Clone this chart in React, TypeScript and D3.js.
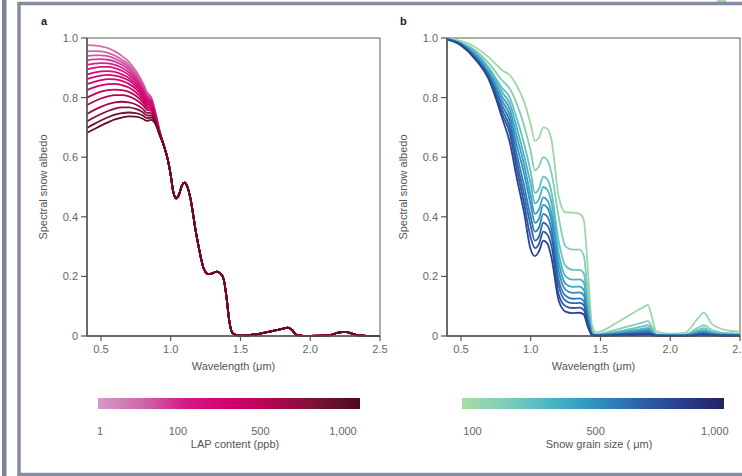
import React from "react";
import * as d3 from "d3";

// ---------- Panel a: LAP content ----------
const LAP_PPB = [1, 10, 25, 50, 75, 100, 150, 200, 250, 300, 400, 500, 600, 750, 900, 1000];
const WL_A_HEAD = [0.4, 0.45, 0.5, 0.55, 0.6, 0.65, 0.7, 0.75, 0.8, 0.83, 0.86, 0.89, 0.92];
const ALBEDO_A_HEAD = [
  [0.976, 0.975, 0.972, 0.966, 0.955, 0.94, 0.92, 0.89, 0.85, 0.818, 0.802, 0.752, 0.69],
  [0.955, 0.956, 0.955, 0.95, 0.941, 0.928, 0.91, 0.882, 0.845, 0.814, 0.8, 0.75, 0.689],
  [0.94, 0.942, 0.942, 0.939, 0.931, 0.919, 0.902, 0.876, 0.84, 0.81, 0.797, 0.748, 0.688],
  [0.925, 0.928, 0.929, 0.927, 0.921, 0.91, 0.894, 0.869, 0.834, 0.806, 0.794, 0.746, 0.687],
  [0.91, 0.914, 0.916, 0.915, 0.91, 0.9, 0.885, 0.862, 0.828, 0.801, 0.79, 0.744, 0.686],
  [0.895, 0.9, 0.903, 0.903, 0.899, 0.89, 0.876, 0.854, 0.822, 0.796, 0.786, 0.742, 0.685],
  [0.878, 0.884, 0.888, 0.889, 0.886, 0.878, 0.866, 0.846, 0.815, 0.791, 0.782, 0.74, 0.684],
  [0.862, 0.869, 0.874, 0.876, 0.874, 0.868, 0.857, 0.838, 0.809, 0.786, 0.778, 0.738, 0.683],
  [0.845, 0.853, 0.859, 0.862, 0.861, 0.856, 0.846, 0.829, 0.802, 0.78, 0.773, 0.736, 0.682],
  [0.825, 0.834, 0.841, 0.845, 0.846, 0.842, 0.834, 0.818, 0.794, 0.774, 0.768, 0.733, 0.681],
  [0.8, 0.811, 0.82, 0.825, 0.827, 0.825, 0.819, 0.806, 0.785, 0.767, 0.762, 0.73, 0.68],
  [0.775, 0.787, 0.797, 0.804, 0.808, 0.808, 0.804, 0.793, 0.775, 0.759, 0.756, 0.727, 0.679],
  [0.745, 0.758, 0.769, 0.778, 0.784, 0.786, 0.784, 0.777, 0.762, 0.749, 0.748, 0.723, 0.678],
  [0.72, 0.733, 0.745, 0.755, 0.763, 0.767, 0.767, 0.762, 0.751, 0.74, 0.74, 0.719, 0.677],
  [0.698, 0.711, 0.723, 0.734, 0.743, 0.748, 0.75, 0.748, 0.74, 0.731, 0.733, 0.715, 0.676],
  [0.682, 0.694, 0.706, 0.717, 0.727, 0.733, 0.737, 0.736, 0.729, 0.722, 0.725, 0.711, 0.675],
];
const WL_A_TAIL = [0.95, 0.98, 1.0, 1.02, 1.04, 1.06, 1.08, 1.1, 1.12, 1.14, 1.16, 1.18, 1.2, 1.22, 1.24, 1.27, 1.3, 1.33, 1.36, 1.38, 1.4, 1.42, 1.44, 1.47, 1.5, 1.55, 1.6, 1.65, 1.7, 1.75, 1.8, 1.84, 1.87, 1.9, 1.95, 2.0, 2.1, 2.15, 2.2, 2.25, 2.3, 2.35, 2.4, 2.5];
const ALBEDO_A_TAIL = [0.64, 0.59, 0.54, 0.48, 0.462, 0.475, 0.505, 0.515, 0.5, 0.465, 0.41, 0.35, 0.3, 0.255, 0.222, 0.208, 0.21, 0.216, 0.208, 0.19, 0.13, 0.05, 0.012, 0.003, 0.001, 0.002, 0.005, 0.009, 0.014, 0.019, 0.024, 0.028, 0.02, 0.004, 0.0005, 0.0005, 0.001, 0.004, 0.011, 0.014, 0.008, 0.002, 0.0005, 0];

const LAP_TICKS = [1, 100, 500, 1000];
const LAP_TICK_LABELS = ["1", "100", "500", "1,000"];
const LAP_TICK_POS = [0.008, 0.305, 0.62, 0.935];
const LAP_STOPS = ["#d49bc9", "#cd6aa9", "#d41a86", "#d4006f", "#b0064f", "#7a1236", "#4a0b1e"];

// ---------- Panel b: snow grain size ----------
const GRAIN_UM = [100, 200, 300, 400, 500, 600, 700, 800, 900, 1000];
const WL_B = [0.4, 0.5, 0.6, 0.7, 0.8, 0.85, 0.9, 0.95, 1.0, 1.03, 1.06, 1.09, 1.12, 1.15, 1.2, 1.25, 1.3, 1.35, 1.38, 1.41, 1.44, 1.47, 1.5, 1.6, 1.7, 1.8, 1.84, 1.87, 1.9, 2.0, 2.1, 2.2, 2.24, 2.3, 2.4, 2.5];
const ALBEDO_B = [
  [0.998, 0.99, 0.97, 0.935, 0.89, 0.875, 0.84, 0.79, 0.71, 0.655, 0.665, 0.7, 0.695, 0.655, 0.47, 0.415, 0.414, 0.41, 0.39, 0.22, 0.035, 0.012, 0.015, 0.04, 0.068, 0.095, 0.104, 0.06, 0.015, 0.008, 0.01, 0.06, 0.078, 0.04, 0.02, 0.015],
  [0.998, 0.985, 0.96, 0.915, 0.855, 0.83, 0.78, 0.71, 0.62, 0.555, 0.57, 0.6, 0.59, 0.545, 0.4, 0.3, 0.29, 0.29, 0.27, 0.14, 0.02, 0.006, 0.008, 0.02, 0.032, 0.045, 0.05, 0.03, 0.006, 0.003, 0.004, 0.028, 0.036, 0.02, 0.01, 0.008],
  [0.997, 0.983, 0.955, 0.9, 0.83, 0.8, 0.73, 0.65, 0.55, 0.48, 0.495, 0.535, 0.525, 0.48, 0.32, 0.235, 0.222, 0.222, 0.21, 0.1, 0.012, 0.004, 0.005, 0.013, 0.022, 0.032, 0.036, 0.02, 0.004, 0.002, 0.003, 0.02, 0.026, 0.014, 0.007, 0.005],
  [0.997, 0.982, 0.95, 0.895, 0.815, 0.78, 0.7, 0.61, 0.51, 0.445, 0.46, 0.5, 0.49, 0.445, 0.28, 0.2, 0.189, 0.19, 0.18, 0.085, 0.009, 0.003, 0.004, 0.01, 0.017, 0.024, 0.027, 0.015, 0.003, 0.002, 0.002, 0.015, 0.019, 0.01, 0.005, 0.004],
  [0.997, 0.981, 0.945, 0.885, 0.8, 0.76, 0.67, 0.58, 0.47, 0.41, 0.425, 0.465, 0.455, 0.41, 0.25, 0.175, 0.165, 0.166, 0.155, 0.07, 0.007, 0.002, 0.003, 0.008, 0.013, 0.019, 0.021, 0.012, 0.003, 0.001, 0.002, 0.012, 0.015, 0.008, 0.004, 0.003],
  [0.996, 0.98, 0.94, 0.88, 0.785, 0.74, 0.64, 0.55, 0.44, 0.38, 0.395, 0.44, 0.43, 0.385, 0.22, 0.155, 0.145, 0.146, 0.137, 0.06, 0.006, 0.002, 0.003, 0.006, 0.011, 0.015, 0.017, 0.01, 0.002, 0.001, 0.001, 0.009, 0.012, 0.006, 0.003, 0.002],
  [0.996, 0.979, 0.937, 0.875, 0.77, 0.72, 0.61, 0.51, 0.4, 0.35, 0.365, 0.41, 0.4, 0.355, 0.19, 0.135, 0.125, 0.126, 0.118, 0.05, 0.005, 0.002, 0.002, 0.005, 0.009, 0.012, 0.013, 0.008, 0.002, 0.001, 0.001, 0.007, 0.009, 0.005, 0.002, 0.002],
  [0.996, 0.978, 0.934, 0.87, 0.755, 0.7, 0.585, 0.48, 0.37, 0.32, 0.335, 0.38, 0.37, 0.33, 0.17, 0.118, 0.11, 0.111, 0.104, 0.045, 0.004, 0.001, 0.002, 0.004, 0.007, 0.009, 0.01, 0.006, 0.002, 0.001, 0.001, 0.005, 0.007, 0.004, 0.002, 0.001],
  [0.995, 0.977, 0.932, 0.865, 0.74, 0.68, 0.56, 0.45, 0.33, 0.295, 0.31, 0.35, 0.34, 0.3, 0.14, 0.1, 0.094, 0.095, 0.088, 0.038, 0.003, 0.001, 0.001, 0.003, 0.005, 0.007, 0.008, 0.005, 0.001, 0.001, 0.001, 0.004, 0.005, 0.003, 0.001, 0.001],
  [0.995, 0.975, 0.93, 0.86, 0.725, 0.65, 0.53, 0.42, 0.29, 0.268, 0.285, 0.32, 0.31, 0.26, 0.12, 0.082, 0.077, 0.078, 0.072, 0.03, 0.003, 0.001, 0.001, 0.002, 0.003, 0.004, 0.005, 0.003, 0.001, 0, 0, 0.002, 0.003, 0.002, 0.001, 0.001],
];

const GRAIN_TICKS = [100, 500, 1000];
const GRAIN_TICK_LABELS = ["100", "500", "1,000"];
const GRAIN_TICK_POS = [0.04, 0.51, 0.965];
const GRAIN_STOPS = ["#a9dca3", "#7fcdb8", "#4cb6c6", "#2f94c1", "#2c66ad", "#2b3d91", "#222461"];

const Y_TICKS = [0, 0.2, 0.4, 0.6, 0.8, 1.0];
const X_TICKS = [0.5, 1.0, 1.5, 2.0, 2.5];

const FONT = "'Liberation Sans', Arial, sans-serif";
const y = d3.scaleLinear().domain([0, 1]).range([336, 38]);

function Panel({ x, label, lx, series, colors }: any) {
  const line = d3
    .line<[number, number]>()
    .x((d) => x(d[0]))
    .y((d) => y(d[1]))
    .curve(d3.curveMonotoneX);
  const [x0, x1] = x.range();
  return (
    <g>
      <text x={lx} y={25} fontFamily={FONT} fontSize={11} fontWeight="bold" fill="#222">
        {label}
      </text>
      <rect x={x0} y={y(1)} width={x1 - x0} height={y(0) - y(1)} fill="none" stroke="#777" strokeWidth={1.2} />
      {series.map((pts: [number, number][], i: number) => (
        <path key={i} d={line(pts) || ""} fill="none" stroke={colors[i]} strokeWidth={1.8} strokeLinejoin="round" />
      ))}
      <line x1={x0} x2={x0} y1={y(1)} y2={y(0)} stroke="#555" strokeWidth={1.5} />
      <line x1={x0} x2={x1} y1={y(0)} y2={y(0)} stroke="#555" strokeWidth={1.5} />
      {Y_TICKS.map((t) => (
        <g key={"y" + t}>
          <line x1={x0 - 6} x2={x0} y1={y(t)} y2={y(t)} stroke="#555" strokeWidth={1.2} />
          <text x={x0 - 9} y={y(t) + 4} textAnchor="end" fontFamily={FONT} fontSize={11} fill="#666">
            {t === 0 ? "0" : t.toFixed(1)}
          </text>
        </g>
      ))}
      {X_TICKS.map((t) => (
        <g key={"x" + t}>
          <line x1={x(t)} x2={x(t)} y1={y(0)} y2={y(0) + 5} stroke="#555" strokeWidth={1.2} />
          <text x={x(t)} y={353} textAnchor="middle" fontFamily={FONT} fontSize={11} fill="#666">
            {t.toFixed(1)}
          </text>
        </g>
      ))}
      <text x={(x0 + x1) / 2} y={370} textAnchor="middle" fontFamily={FONT} fontSize={11} fill="#555">
        Wavelength (μm)
      </text>
      <text
        transform={`translate(${x0 - 40},${(y(0) + y(1)) / 2}) rotate(-90)`}
        textAnchor="middle"
        fontFamily={FONT}
        fontSize={11}
        fill="#555"
      >
        Spectral snow albedo
      </text>
    </g>
  );
}

function ColorBar({ id, x0, x1, stops, labels, pos, title }: any) {
  const cx = d3.scaleLinear().domain([0, 1]).range([x0, x1]);
  return (
    <g>
      <defs>
        <linearGradient id={id} x1="0" x2="1" y1="0" y2="0">
          {stops.map((c: string, i: number) => (
            <stop key={i} offset={i / (stops.length - 1)} stopColor={c} />
          ))}
        </linearGradient>
      </defs>
      <rect x={x0} y={398} width={x1 - x0} height={11} fill={`url(#${id})`} />
      {labels.map((l: string, i: number) => (
        <text key={i} x={cx(pos[i])} y={435} textAnchor="middle" fontFamily={FONT} fontSize={11} fill="#666">
          {l}
        </text>
      ))}
      <text x={(x0 + x1) / 2 + 6} y={448} textAnchor="middle" fontFamily={FONT} fontSize={11} fill="#555">
        {title}
      </text>
    </g>
  );
}

export default function App() {
  const xA = d3.scaleLinear().domain([0.4, 2.5]).range([87, 380]);
  const xB = d3.scaleLinear().domain([0.4, 2.5]).range([447, 740]);

  const lapInterp = d3.interpolateRgbBasis(LAP_STOPS);
  const lapPos = d3.scaleLinear().domain(LAP_TICKS).range(LAP_TICK_POS).clamp(true);
  const lapLineT = d3.scaleLinear().domain([0, 1]).range([0.14, 0.97]);
  const grainInterp = d3.interpolateRgbBasis(GRAIN_STOPS);
  const grainPos = d3.scaleLinear().domain(GRAIN_TICKS).range(GRAIN_TICK_POS).clamp(true);
  const grainLineT = d3.scaleLinear().domain([0, 1]).range([0.02, 0.84]);

  const seriesA = ALBEDO_A_HEAD.map((head) =>
    head
      .map((v, i) => [WL_A_HEAD[i], v] as [number, number])
      .concat(ALBEDO_A_TAIL.map((v, i) => [WL_A_TAIL[i], v] as [number, number]))
  );
  const colorsA = LAP_PPB.map((c) => lapInterp(lapLineT(lapPos(c))));
  const seriesB = ALBEDO_B.map((row) => row.map((v, i) => [WL_B[i], v] as [number, number]));
  const colorsB = GRAIN_UM.map((g) => grainInterp(grainLineT(grainPos(g))));

  return (
    <div style={{ position: "absolute", left: 0, top: 0, width: 742, height: 476, background: "#fff" }}>
      <svg width={742} height={476} style={{ display: "block" }}>
        <rect x={0} y={0} width={742} height={476} fill="#fff" />
        <rect x={2} y={0} width={4.5} height={476} fill="#7d8197" />
        <rect x={717} y={0} width={9} height={2.5} fill="#a9d8a3" />
        <path d="M742,3.5 H19 V474.5 H742" fill="none" stroke="#878ba2" strokeWidth={3.5} />
        <Panel x={xA} label="a" lx={41} series={seriesA} colors={colorsA} />
        <Panel x={xB} label="b" lx={400} series={seriesB} colors={colorsB} />
        <ColorBar
          id="lapGrad"
          x0={98}
          x1={360}
          stops={LAP_STOPS}
          labels={LAP_TICK_LABELS}
          pos={LAP_TICK_POS}
          title="LAP content (ppb)"
        />
        <ColorBar
          id="grainGrad"
          x0={462}
          x1={724}
          stops={GRAIN_STOPS}
          labels={GRAIN_TICK_LABELS}
          pos={GRAIN_TICK_POS}
          title="Snow grain size ( μm)"
        />
      </svg>
    </div>
  );
}
